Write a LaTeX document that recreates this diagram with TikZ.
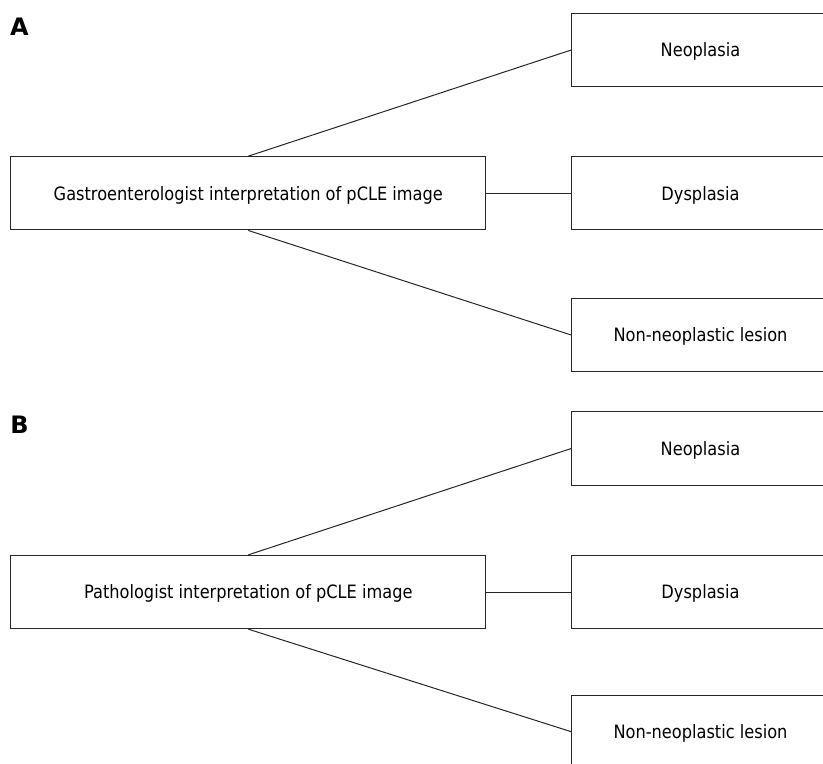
\documentclass[tikz,border=0pt]{standalone}
\usepackage{fontspec}
\setmainfont[FakeStretch=0.88]{DejaVu Sans}
\newfontfamily\letterfont{DejaVu Sans}
\begin{document}
\begin{tikzpicture}[x=1pt,y=-1pt,
        riquadro/.style={draw=black!85,line width=1pt,inner sep=0pt,
            minimum height=73.3pt,text height=13.4pt,text depth=0pt,
            font=\fontsize{18.4}{21}\selectfont},
        esito/.style={riquadro,minimum width=257.6pt},
        lettera/.style={inner sep=0pt,text depth=0pt,
            font=\letterfont\bfseries\fontsize{24}{24}\selectfont},
        ramo/.style={draw=black!85,line width=1pt}]
        \useasboundingbox (0,0) rectangle (823,764);
        \clip (0,0) rectangle (823,764);
        % Pannello A
        \node [lettera] (letteraA) at (19.5,27) {A};
        \node [riquadro,minimum width=475.3pt] (gastro) at (248.3,193.3) {Gastroenterologist interpretation of pCLE image};
        \node [esito] (neoA) at (700.5,50) {Neoplasia};
        \node [esito] (dysA) at (700.5,193.3) {Dysplasia};
        \node [esito] (nonA) at (700.5,335) {Non-neoplastic lesion};
        \draw [ramo] (gastro.north) -- (neoA.west);
        \draw [ramo] (gastro.east) -- (dysA.west);
        \draw [ramo] (gastro.south) -- (nonA.west);
        % Pannello B
        \node [lettera] (letteraB) at (19.5,425) {B};
        \node [riquadro,minimum width=475.3pt] (pato) at (248.3,592) {Pathologist interpretation of pCLE image};
        \node [esito] (neoB) at (700.5,448.5) {Neoplasia};
        \node [esito] (dysB) at (700.5,592) {Dysplasia};
        \node [esito] (nonB) at (700.5,731.7) {Non-neoplastic lesion};
        \draw [ramo] (pato.north) -- (neoB.west);
        \draw [ramo] (pato.east) -- (dysB.west);
        \draw [ramo] (pato.south) -- (nonB.west);
\end{tikzpicture}
\end{document}
